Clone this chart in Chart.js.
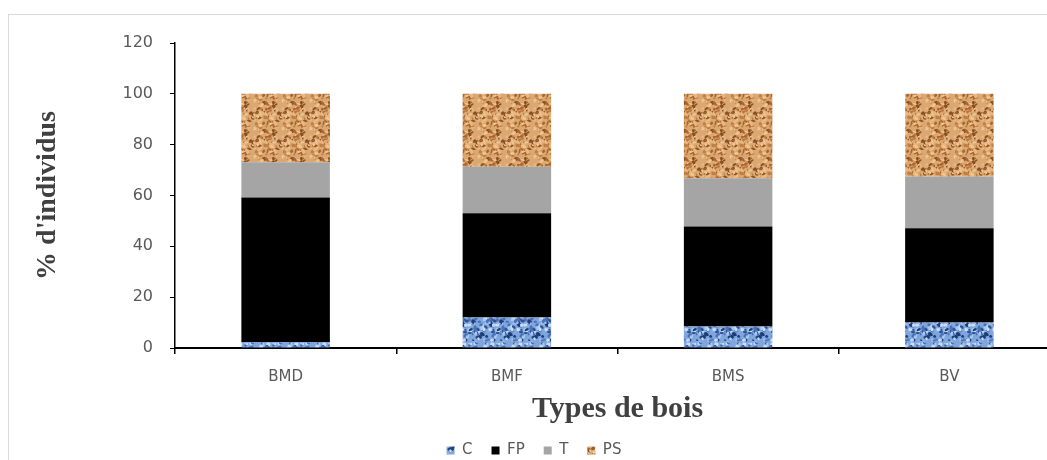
<!DOCTYPE html>
<html>
<head>
<meta charset="utf-8">
<script src="https://cdn.jsdelivr.net/npm/chart.js@4.4.1/dist/chart.umd.min.js"></script>
<style>
  html, body { margin: 0; padding: 0; background: #fff; overflow: hidden; width: 1047px; height: 460px; }
  #frame { position: absolute; left: 8px; top: 14px; width: 1100px; height: 500px; border: 1px solid #d9d9d9; box-sizing: border-box; }
  #wrap { position: absolute; left: 0; top: 0; width: 1060px; height: 470px; }
</style>
</head>
<body>
<div id="frame"></div>
<div id="wrap"><canvas id="c" width="1060" height="470"></canvas></div>
<script>
// Wood types and the share of individuals (%) in each class
const categories = ['BMD', 'BMF', 'BMS', 'BV'];
const seriesC  = [2.4, 12.0, 8.5, 10.0];
const seriesFP = [56.8, 41.0, 39.3, 37.1];
const seriesT  = [13.9, 18.3, 19.0, 20.4];
const seriesPS = [26.9, 28.7, 33.2, 32.5];
const yTicks = [0, 20, 40, 60, 80, 100, 120];

// Small tiling textures for the patterned fills
function makeTexture(base, palette, seed, count) {
  const s = 28;
  const cv = document.createElement('canvas');
  cv.width = cv.height = s;
  const g = cv.getContext('2d');
  g.fillStyle = base;
  g.fillRect(0, 0, s, s);
  let h = seed;
  const next = () => { h = (h * 1103515245 + 12345) & 0x7fffffff; return h / 0x7fffffff; };
  for (let i = 0; i < count; i++) {
    const x = next() * s, y = next() * s;
    const rx = 0.8 + next() * 1.8, ry = 0.6 + next() * 1.4;
    g.fillStyle = palette[Math.floor(next() * palette.length)];
    for (const dx of [-s, 0, s]) for (const dy of [-s, 0, s]) {
      g.beginPath();
      g.ellipse(x + dx, y + dy, rx, ry, next() * Math.PI, 0, Math.PI * 2);
      g.fill();
    }
  }
  return g.createPattern(cv, 'repeat');
}

const ctx = document.getElementById('c').getContext('2d');
const texC  = makeTexture('#7fa6dd', ['#2e5597', '#4a72b8', '#a9c7ef', '#c9ddf7', '#1f3d7a'], 7, 80);
const texPS = makeTexture('#dba872', ['#a8652f', '#f0c693', '#c07f45', '#8a4f22', '#e8b882'], 13, 85);

const sans = "'DejaVu Sans', 'Open Sans', sans-serif";
const serif = "'Liberation Serif', 'DejaVu Serif', serif";

new Chart(ctx, {
  type: 'bar',
  data: {
    labels: categories,
    datasets: [
      { label: 'C',  data: seriesC,  backgroundColor: texC },
      { label: 'FP', data: seriesFP, backgroundColor: '#000000' },
      { label: 'T',  data: seriesT,  backgroundColor: '#a5a5a5' },
      { label: 'PS', data: seriesPS, backgroundColor: texPS }
    ]
  },
  options: {
    responsive: false,
    animation: false,
    devicePixelRatio: 1,
    layout: { padding: { left: 8, top: 43, right: 0, bottom: 2 } },
    datasets: { bar: { barPercentage: 1, categoryPercentage: 0.4, borderWidth: 0 } },
    plugins: {
      tooltip: { enabled: false },
      legend: {
        position: 'bottom',
        labels: {
          boxWidth: 8, boxHeight: 8, padding: 19,
          color: '#595959',
          font: { family: sans, size: 15 }
        }
      }
    },
    scales: {
      x: {
        stacked: true,
        afterFit: (scale) => { scale.height = 76; },
        border: { display: true, color: '#000', width: 2 },
        grid: { display: true, drawOnChartArea: false, drawTicks: true, tickLength: 6, color: '#000', lineWidth: 1.5, offset: true },
        ticks: { color: '#595959', font: { family: sans, size: 15 }, padding: 14 },
        title: {
          display: true, text: 'Types de bois', color: '#404040',
          font: { family: serif, size: 30, weight: 'bold', lineHeight: 1.0 },
          padding: { top: 0, bottom: 0 }
        }
      },
      y: {
        stacked: true,
        min: 0, max: 120,
        afterBuildTicks: (scale) => { scale.ticks = yTicks.map(v => ({ value: v })); },
        afterFit: (scale) => { scale.width = 167; },
        border: { display: true, color: '#000', width: 1.5 },
        grid: { display: true, drawOnChartArea: false, drawTicks: true, tickLength: 5, color: '#000', lineWidth: 1 },
        ticks: { color: '#595959', font: { family: sans, size: 16 }, padding: 17 },
        title: {
          display: true, text: "% d'individus", color: '#404040',
          font: { family: serif, size: 28, weight: 'bold' },
          padding: { top: 23, bottom: 0 }
        }
      }
    }
  }
});
</script>
</body>
</html>
